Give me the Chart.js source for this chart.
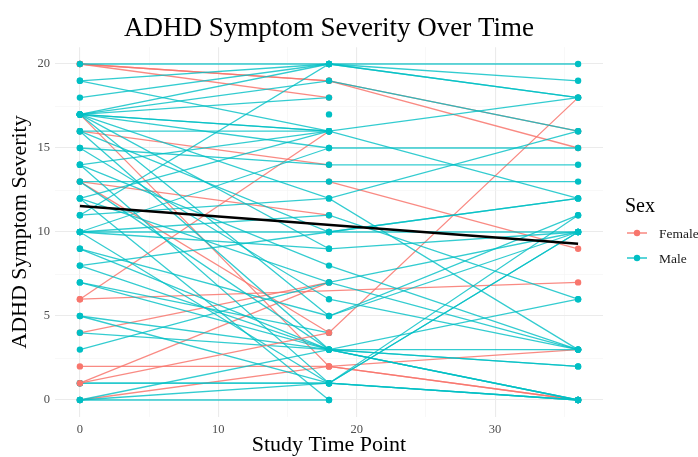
<!DOCTYPE html>
<html><head><meta charset="utf-8">
<script src="https://cdn.jsdelivr.net/npm/chart.js@4.4.0/dist/chart.umd.min.js"></script>
<style>html,body{margin:0;padding:0;background:#fff}#wrap{width:698px;height:457px}</style>
</head><body><div id="wrap"><canvas id="c" width="698" height="457"></canvas></div>
<script>
// ---- data ----
const timePoints = [0, 18, 36];
const femaleScores = [
  [20, 19, 15], [20, 19, 16], [20, 18, null], [16, 14, null], [17, 2, 0],
  [13, 11, null], [null, 13, 9], [6, null, 7], [6, 16, null], [4, 7, null],
  [2, 2, 3], [1, 7, null], [13, 4, 18], [0, 2, 0]
];
const femaleTopScores = [[1, 4, null]];
const maleScores = [
  [20, 20, 20], [19, 20, 19], [19, 16, null], [18, 20, null], [17, 20, 18],
  [17, 18, null], [17, 16, 12], [17, 16, null], [17, 15, 15], [17, 12, 16],
  [17, 9, null], [17, 5, 10], [16, 16, 18], [16, 10, 12], [16, 3, 0],
  [15, 14, 14], [15, 6, 3], [14, 16, null], [14, 8, 3], [14, 1, 0],
  [13, 13, 13], [13, 3, 2], [12, 16, null], [12, 7, 10], [12, 0, null],
  [11, 20, 18], [11, 12, 3], [10, 15, null], [10, 9, 10], [10, 1, 10],
  [9, 5, 11], [null, 17, null], [10, 10, 12], [10, 11, 6], [9, 3, 0],
  [8, 10, 10], [8, 3, 3], [7, 4, null], [7, 3, 6], [5, 1, 0],
  [5, 3, 0], [4, 3, 2], [3, 7, 3], [1, 1, 0], [1, 1, 10],
  [0, 0, null], [0, 1, 11], [0, 3, null], [17, 19, 16]
];
const trendTimes = [0, 36];
const trendValues = [11.55, 9.3];
const xTickValues = [0, 5, 10, 15, 20, 25, 30, 35];
const yTickValues = [0, 2.5, 5, 7.5, 10, 12.5, 15, 17.5, 20];
const sexLabels = ['Female', 'Male'];
const sexColors = ['#F8766D', '#00BFC4'];

// ---- build datasets ----
const SERIF = '"Liberation Serif", "Times New Roman", serif';
const LINE_F = 'rgba(248,118,109,0.85)', LINE_M = 'rgba(0,191,196,0.8)';
function toPoints(vals) {
  return timePoints.map((t, i) => ({ x: t, y: vals[i] })).filter(p => p.y !== null);
}
function subjectSet(vals, color, lineColor, order) {
  return {
    data: toPoints(vals), borderColor: lineColor, backgroundColor: color,
    pointBackgroundColor: color, pointBorderWidth: 0, pointRadius: 3.2, pointHoverRadius: 3.2,
    borderWidth: 1.3, tension: 0, spanGaps: true, order: order
  };
}
const datasets = [];
datasets.push({
  data: trendTimes.map((t, i) => ({ x: t, y: trendValues[i] })),
  borderColor: '#000', borderWidth: 2.6, pointRadius: 0, order: 0
});
femaleTopScores.forEach(v => datasets.push(subjectSet(v, sexColors[0], LINE_F, 0.5)));
maleScores.forEach(v => datasets.push(subjectSet(v, sexColors[1], LINE_M, 1)));
femaleScores.forEach(v => datasets.push(subjectSet(v, sexColors[0], LINE_F, 2)));

const decor = {
  id: 'decor',
  afterDraw(chart) {
    const ctx = chart.ctx, ca = chart.chartArea;
    ctx.save();
    ctx.fillStyle = '#000';
    ctx.textAlign = 'center';
    ctx.textBaseline = 'alphabetic';
    ctx.font = '27px ' + SERIF;
    ctx.fillText('ADHD Symptom Severity Over Time', (ca.left + ca.right) / 2, 36);
    // legend
    ctx.textAlign = 'left';
    ctx.font = '20px ' + SERIF;
    ctx.fillText('Sex', 625, 212);
    ctx.font = '13.5px ' + SERIF;
    ctx.textBaseline = 'middle';
    sexLabels.forEach((lab, i) => {
      const y = 233 + i * 25;
      ctx.strokeStyle = sexColors[i];
      ctx.lineWidth = 1.3;
      ctx.beginPath(); ctx.moveTo(627, y); ctx.lineTo(647, y); ctx.stroke();
      ctx.fillStyle = sexColors[i];
      ctx.beginPath(); ctx.arc(637, y, 3.2, 0, Math.PI * 2); ctx.fill();
      ctx.fillStyle = '#1a1a1a';
      ctx.fillText(lab, 659, y + 1);
    });
    ctx.restore();
  }
};

new Chart(document.getElementById('c'), {
  type: 'line',
  data: { datasets },
  plugins: [decor],
  options: {
    responsive: false, animation: false, devicePixelRatio: 1,
    layout: { padding: { top: 47.2, right: 95, bottom: 0, left: 0 } },
    plugins: { legend: { display: false }, tooltip: { enabled: false }, title: { display: false } },
    scales: {
      x: {
        type: 'linear', min: -1.8, max: 37.8,
        afterBuildTicks: s => { s.ticks = xTickValues.map(v => ({ value: v })); },
        afterFit: s => { s.height = 40.2; },
        border: { display: false },
        grid: {
          drawTicks: false,
          color: c => (c.tick && c.tick.value % 10 === 0) ? '#EBEBEB' : '#F4F4F4',
          lineWidth: c => (c.tick && c.tick.value % 10 === 0) ? 1.1 : 0.6
        },
        ticks: {
          autoSkip: false, maxRotation: 0, padding: 5, color: '#4D4D4D',
          font: { family: SERIF, size: 12.5 },
          callback: v => (v % 10 === 0 ? String(v) : '')
        },
        title: { display: true, text: 'Study Time Point', color: '#000',
          font: { family: SERIF, size: 22, lineHeight: 0.85 }, padding: { top: 0, bottom: 2 } }
      },
      y: {
        type: 'linear', min: -1, max: 21,
        afterBuildTicks: s => { s.ticks = yTickValues.map(v => ({ value: v })); },
        afterFit: s => { s.width = 55; },
        border: { display: false },
        grid: {
          drawTicks: false,
          color: c => (c.tick && c.tick.value % 5 === 0) ? '#EBEBEB' : '#F4F4F4',
          lineWidth: c => (c.tick && c.tick.value % 5 === 0) ? 1.1 : 0.6
        },
        ticks: {
          autoSkip: false, padding: 5, color: '#4D4D4D',
          font: { family: SERIF, size: 12.5 },
          callback: v => (v % 5 === 0 ? String(v) : '')
        },
        title: { display: true, text: 'ADHD Symptom Severity', color: '#000',
          font: { family: SERIF, size: 22 }, padding: { top: 7, bottom: 0 } }
      }
    }
  }
});
</script></body></html>
